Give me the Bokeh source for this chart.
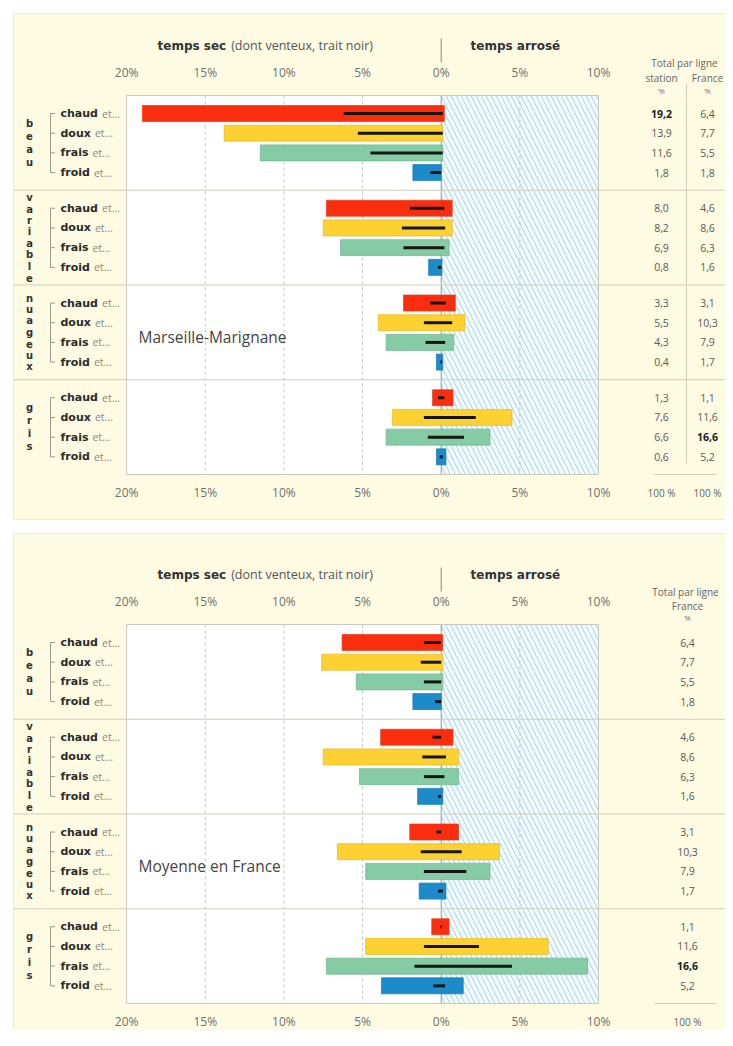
from bokeh.plotting import figure
from bokeh.models import Range1d
from bokeh.embed import file_html
from bokeh.resources import INLINE
from bokeh.core.properties import value

# ---------------- data ----------------
groups = ["beau", "variable", "nuageux", "gris"]
temps = ["chaud", "doux", "frais", "froid"]
temps_colors = ["#fb2d0f", "#fdd132", "#85cca4", "#1b8bca"]
temps_edges = ["#e0401c", "#e8b820", "#6db58c", "#1577b0"]
x_ticks = [-20, -15, -10, -5, 0, 5, 10]
tick_labels = ["20%", "15%", "10%", "5%", "0%", "5%", "10%"]
grid_ticks = [-15, -10, -5, 5]

# Marseille-Marignane (% of days), order: beau(chaud,doux,frais,froid), variable, nuageux, gris
mars_sec = [19.0, 13.8, 11.5, 1.8, 7.3, 7.5, 6.4, 0.8, 2.4, 4.0, 3.5, 0.3, 0.55, 3.1, 3.5, 0.3]
mars_arrose = [0.2, 0.1, 0.1, 0.0, 0.7, 0.7, 0.5, 0.05, 0.9, 1.5, 0.8, 0.1, 0.75, 4.5, 3.1, 0.3]
mars_vent_sec = [6.2, 5.3, 4.5, 0.7, 2.0, 2.5, 2.4, 0.2, 0.7, 1.1, 1.0, 0.05, 0.2, 1.1, 0.85, 0.1]
mars_vent_arrose = [0.1, 0.1, 0.1, 0.0, 0.2, 0.25, 0.2, 0.0, 0.3, 0.7, 0.25, 0.05, 0.2, 2.2, 1.45, 0.1]
mars_total = [19.2, 13.9, 11.6, 1.8, 8.0, 8.2, 6.9, 0.8, 3.3, 5.5, 4.3, 0.4, 1.3, 7.6, 6.6, 0.6]

# Moyenne en France
fr_sec = [6.3, 7.6, 5.4, 1.8, 3.85, 7.5, 5.2, 1.5, 2.0, 6.6, 4.8, 1.4, 0.6, 4.8, 7.3, 3.8]
fr_arrose = [0.1, 0.1, 0.1, 0.0, 0.75, 1.1, 1.1, 0.1, 1.1, 3.7, 3.1, 0.3, 0.5, 6.8, 9.3, 1.4]
fr_vent_sec = [1.1, 1.3, 1.1, 0.4, 0.55, 1.2, 1.1, 0.2, 0.3, 1.3, 1.1, 0.2, 0.05, 1.1, 1.7, 0.5]
fr_vent_arrose = [0.0, 0.0, 0.0, 0.0, 0.0, 0.3, 0.2, 0.0, 0.0, 1.3, 1.6, 0.1, 0.05, 2.4, 4.5, 0.25]
fr_total = [6.4, 7.7, 5.5, 1.8, 4.6, 8.6, 6.3, 1.6, 3.1, 10.3, 7.9, 1.7, 1.1, 11.6, 16.6, 5.2]

# ---------------- layout ----------------
W, H = 725, 1030
X0, PXPP = 440.7, 15.73           # canvas x of 0 %, pixels per %
GH, ROW0, ROWSP, BARH = 94.75, 18, 19.7, 16
CREAM = "#fdfbe2"
SEP = "#cfcdb9"
BOLD = value("DejaVu Sans")
SANS = value("Open Sans")

adv = {'a': 0.675, 'b': 0.716, 'c': 0.593, 'd': 0.716, 'e': 0.678, 'f': 0.435, 'g': 0.716,
       'h': 0.712, 'i': 0.343, 'l': 0.343, 'o': 0.687, 'r': 0.493, 's': 0.595, 'u': 0.712,
       'x': 0.648, 't': 0.478, 'm': 1.042, 'p': 0.716, ' ': 0.348, 'é': 0.678}


def bw(s, size):
    return sum(adv.get(ch, 0.65) for ch in s) * size


p = figure(width=W, height=H, x_range=Range1d(-X0 / PXPP, (W - X0) / PXPP),
           y_range=Range1d(H, 0), toolbar_location=None, output_backend="svg",
           min_border=0, x_axis_location=None, y_axis_location=None,
           background_fill_color="white", border_fill_color="white",
           outline_line_color=None, title=None)
p.extra_x_ranges = {"px": Range1d(0, W)}
for g in p.grid:
    g.visible = False

# cream panels
p.quad(left=[13, 13], right=[W + 2, W + 2], top=[13, 533], bottom=[519, H + 2], x_range_name="px",
       fill_color=CREAM, line_color="#efedd5")


def fmt(v):
    return f"{v:.1f}".replace(".", ",")


def panel(top, sec, arr, vsec, varr, totals_cols, site):
    bottom = top + 4 * GH
    # white plot area + hatched wet side
    p.quad(left=[x_ticks[0]], right=[0], top=[top], bottom=[bottom], fill_color="white", line_color=None)
    p.quad(left=[0], right=[x_ticks[-1]], top=[top], bottom=[bottom], fill_color="#f2fafc",
           line_color=None, hatch_pattern="left_diagonal_line", hatch_color="#a6d5e7",
           hatch_scale=10, hatch_weight=1)
    p.segment(x0=grid_ticks, x1=grid_ticks, y0=[top] * len(grid_ticks), y1=[bottom] * len(grid_ticks),
              line_color="#c4c4c4", line_dash="3 3", line_width=1)
    p.segment(x0=[0], x1=[0], y0=[top], y1=[bottom], line_color="#8c9aa0", line_width=1)

    ys = [top + ROW0 + g * GH + r * ROWSP for g in range(4) for r in range(4)]
    cols = [temps_colors[i % 4] for i in range(16)]
    edges = [temps_edges[i % 4] for i in range(16)]
    p.hbar(y=ys, left=[-v for v in sec], right=arr, height=BARH, fill_color=cols,
           line_color=edges, line_width=1, line_alpha=0.7)
    p.segment(x0=[-v for v in vsec], x1=varr, y0=ys, y1=ys, line_color="#151515",
              line_width=3, line_cap="butt")

    # plot frame
    p.quad(left=[x_ticks[0]], right=[x_ticks[-1]], top=[top], bottom=[bottom], fill_color=None,
           line_color="#c9c9c4", line_width=1)
    # group separators (full width)
    seps = [top + k * GH for k in range(1, 4)]
    p.segment(x0=[13] * 3, x1=[W] * 3, y0=seps, y1=seps, x_range_name="px", line_color=SEP, line_width=1)

    # header
    hy = top - 50
    p.text(x=[157], y=[hy], text=["temps sec"], x_range_name="px", text_font=BOLD,
           text_font_style="bold", text_font_size="12px", text_color="#333333",
           text_baseline="middle")
    p.text(x=[157 + bw("temps sec", 12) + 5], y=[hy], text=["(dont venteux, trait noir)"],
           x_range_name="px", text_font=SANS, text_font_size="12.5px", text_color="#555555",
           text_baseline="middle")
    p.segment(x0=[0], x1=[0], y0=[top - 57], y1=[top - 33], line_color="#888888", line_width=1)
    p.text(x=[470], y=[hy], text=["temps arrosé"], x_range_name="px", text_font=BOLD,
           text_font_style="bold", text_font_size="12px", text_color="#333333",
           text_baseline="middle")

    # tick labels above and below
    for ty in (top - 23, bottom + 18):
        p.text(x=x_ticks, y=[ty] * len(x_ticks), text=tick_labels, text_font=SANS,
               text_font_size="12px", text_color="#707070", text_align="center",
               text_baseline="middle")

    # row labels
    words = [temps[i % 4] for i in range(16)]
    p.text(x=[60] * 16, y=ys, text=words, x_range_name="px", text_font=BOLD, text_font_style="bold",
           text_font_size="11px", text_color="#2b2b2b", text_baseline="middle")
    p.text(x=[60 + bw(w, 11) + 4 for w in words], y=ys, text=["et..."] * 16, x_range_name="px",
           text_font=SANS, text_font_size="10.5px", text_color="#8a8a80", text_baseline="middle")
    # brackets
    for g in range(4):
        y_a, y_b = ys[g * 4], ys[g * 4 + 3]
        p.segment(x0=[50], x1=[50], y0=[y_a], y1=[y_b], x_range_name="px", line_color="#9a9a90")
        p.segment(x0=[50] * 4, x1=[54.5] * 4, y0=ys[g * 4:g * 4 + 4], y1=ys[g * 4:g * 4 + 4],
                  x_range_name="px", line_color="#9a9a90")
        name = groups[g]
        n = len(name)
        sp = 13 if n <= 4 else 11.4
        gc = top + g * GH + GH / 2
        ly = [gc + (k - (n - 1) / 2) * sp for k in range(n)]
        p.text(x=[29] * n, y=ly, text=list(name), x_range_name="px", text_font=BOLD,
               text_font_style="bold", text_font_size="10px", text_color="#333333",
               text_align="center", text_baseline="middle")

    # site name
    p.text(x=[138], y=[top + 241], text=[site], x_range_name="px", text_font=SANS,
           text_font_size="15.5px", text_color="#444444", text_baseline="middle")

    # right table
    if len(totals_cols) == 2:
        hx = 684
        p.text(x=[hx], y=[top - 33], text=["Total par ligne"], x_range_name="px", text_font=SANS,
               text_font_size="10px", text_color="#666666", text_align="center", text_baseline="middle")
        subs = ["station", "France"]
        cx = [661, 707]
        p.text(x=cx, y=[top - 18] * 2, text=subs, x_range_name="px", text_font=SANS,
               text_font_size="10px", text_color="#666666", text_align="center", text_baseline="middle")
        p.text(x=cx, y=[top - 5] * 2, text=["%", "%"], x_range_name="px", text_font=SANS,
               text_font_size="8px", text_color="#777777", text_align="center", text_baseline="middle")
        p.segment(x0=[686], x1=[686], y0=[top - 12], y1=[bottom - 11], x_range_name="px",
                  line_color=SEP, line_width=1)
    else:
        hx = 685
        cx = [687]
        p.text(x=[hx], y=[top - 33], text=["Total par ligne"], x_range_name="px", text_font=SANS,
               text_font_size="10px", text_color="#666666", text_align="center", text_baseline="middle")
        p.text(x=cx, y=[top - 19], text=["France"], x_range_name="px", text_font=SANS,
               text_font_size="10px", text_color="#666666", text_align="center", text_baseline="middle")
        p.text(x=cx, y=[top - 7], text=["%"], x_range_name="px", text_font=SANS,
               text_font_size="8px", text_color="#777777", text_align="center", text_baseline="middle")
    for c, vals in zip(cx, totals_cols):
        imax = vals.index(max(vals))
        norm = [i for i in range(16) if i != imax]
        p.text(x=[c] * 15, y=[ys[i] for i in norm], text=[fmt(vals[i]) for i in norm],
               x_range_name="px", text_font=SANS, text_font_size="10.5px", text_color="#5a5a5a",
               text_align="center", text_baseline="middle")
        p.text(x=[c], y=[ys[imax]], text=[fmt(vals[imax])], x_range_name="px", text_font=SANS,
               text_font_style="bold", text_font_size="10.5px", text_color="#222222",
               text_align="center", text_baseline="middle")
        p.text(x=[c], y=[bottom + 18], text=["100 %"], x_range_name="px", text_font=SANS,
               text_font_size="10px", text_color="#666666", text_align="center", text_baseline="middle")
    p.segment(x0=[654], x1=[716], y0=[bottom], y1=[bottom], x_range_name="px", line_color=SEP)


panel(95, mars_sec, mars_arrose, mars_vent_sec, mars_vent_arrose, [mars_total, fr_total],
      "Marseille-Marignane")
panel(624, fr_sec, fr_arrose, fr_vent_sec, fr_vent_arrose, [fr_total], "Moyenne en France")

open("out.html", "w").write(file_html(p, INLINE))
